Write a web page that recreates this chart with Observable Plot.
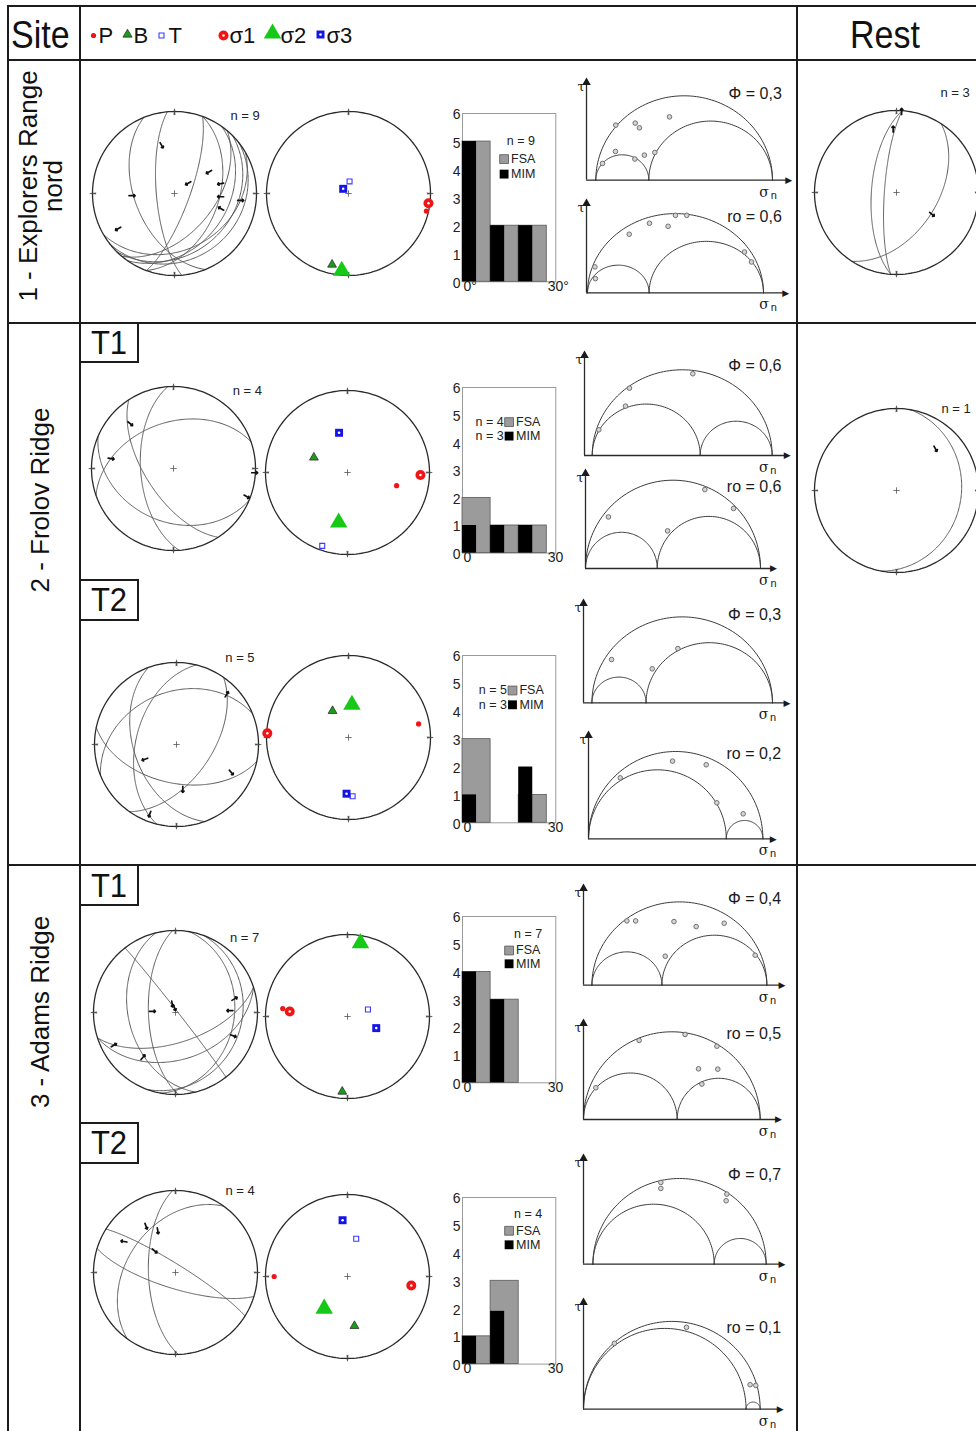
<!DOCTYPE html>
<html>
<head>
<meta charset="utf-8">
<script src="https://cdn.jsdelivr.net/npm/d3@7"></script>
<script src="https://cdn.jsdelivr.net/npm/@observablehq/plot@0.6"></script>
<style>
  html, body { margin: 0; padding: 0; background: #fff; }
  #page { position: relative; width: 976px; height: 1431px; overflow: hidden; background: #fff;
          font-family: "Liberation Sans", Arial, Helvetica, sans-serif; color: #111; }
  .ln { position: absolute; background: #1c1c1c; }
  .txt { position: absolute; white-space: nowrap; line-height: 1; }
</style>
</head>
<body>
<div id="page"></div>
<script>
// ======================= DATA =======================
const headerSite = "Site";
const headerRest = "Rest";
const legendLabels = ["P", "B", "T", "σ1", "σ2", "σ3"];
const siteNames = [["1 - Explorers Range", "nord"], ["2 - Frolov Ridge"], ["3 - Adams Ridge"]];
const phaseNames = ["T1", "T2"];

// Fault planes: [dip direction (deg), dip (deg)]
const planesS1   = [[265,72],[248,50],[110,75],[110,45],[125,35],[135,28],[142,20],[130,50],[150,32]];
const planesS2T1 = [[237,62],[266,57],[341,43],[203,35]];
const planesS2T2 = [[250,47],[284,49],[192,51],[338,36],[125,55]];
const planesS3T1 = [[52,88],[162,60],[162,42],[268,63],[256,42],[100,29],[110,20]];
const planesS3T2 = [[32,82],[197,74],[268,63],[306,41]];
const planesRest1 = [[274,65],[274,78],[123,49]];
const planesRest2 = [[100,22]];

// Striae: [trend (deg), plunge (deg), slip sense azimuth (deg)]
const striaeS1   = [[345,39,150],[58,49,240],[53,73,240],[78,42,260],[267,47,90],[94,43,270],[96,20,90],[108,40,300],[238,20,240]];
const striaeS2T1 = [[316,25,130],[279,24,100],[93,1,90],[111,5,120]];
const striaeS2T2 = [[45,14.5,30],[245,55,250],[172,44,180],[117,26,140],[201,10,200]];
const striaeS3T1 = [[339,81,170],[348,85,160],[273,67,90],[77,27,60],[88,34,270],[112,25,110],[242,16,60],[216,33,40]];
const striaeS3T2 = [[327.5,33.5,160],[337,44,170],[301,27.5,280],[316,60,130]];
const striaeRest1 = [[3.6,1,0],[357,23.6,0],[121.5,48,130]];
const striaeRest2 = [[43,31,150]];

// Kinematic axes (P, B, T) and stress axes (σ1, σ2, σ3): [axis, trend, plunge]
const axesS1   = [["P",102.7,3],["B",193,12],["T",5,78],["σ1",97,2],["σ2",185,6],["σ3",311.5,83]];
const axesS2T1 = [["P",105,38],["B",294,53],["T",199,6],["σ1",92,12],["σ2",190,38],["σ3",348,49]];
const axesS2T2 = [["P",79,14],["B",329,59],["T",176,29],["σ1",273,1],["σ2",6,57],["σ3",182,32]];
const axesS3T1 = [["P",277,21.5],["B",184,9],["T",71,68.5],["σ1",275,30],["σ2",10,10],["σ3",112,59]];
const axesS3T2 = [["P",270,11.5],["B",172,39],["T",13,51],["σ1",98,22.5],["σ2",216,50],["σ3",355,31.7]];

const netCounts = [9, 4, 5, 7, 4];
const restCounts = [3, 1];

// Misfit-angle histograms (0-30 deg, 10 deg bins)
const binStarts = [0, 10, 20];
const binWidth = 10;
const fsaCounts = [[5,2,2],[2,1,1],[3,0,1],[4,3,0],[1,3,0]];
const mimCounts = [[5,2,2],[1,1,1],[1,0,2],[4,3,0],[1,1.9,0]];
const fsaN = [9, 4, 5, 7, 4];
const mimN = [null, 3, 3, null, null];
const histYTicks = [0,1,2,3,4,5,6];
const histXTicks = [0, 30];

// Mohr diagrams
const mohrLabels = ["Φ = 0,3","ro = 0,6","Φ = 0,6","ro = 0,6","Φ = 0,3","ro = 0,2","Φ = 0,4","ro = 0,5","Φ = 0,7","ro = 0,1"];
const sigma2Pos  = [0.30, 0.35, 0.60, 0.41, 0.30, 0.79, 0.40, 0.53, 0.70, 0.92];
const mohrPoints = [
  [[0.038,0.099],[0.113,0.326],[0.111,0.170],[0.223,0.338],[0.247,0.310],[0.221,0.125],[0.275,0.148],[0.334,0.164],[0.417,0.375]],
  [[0.042,0.164],[0.045,0.090],[0.237,0.370],[0.352,0.439],[0.458,0.420],[0.500,0.489],[0.564,0.489],[0.892,0.258],[0.932,0.195]],
  [[0.037,0.150],[0.185,0.288],[0.207,0.393],[0.559,0.477]],
  [[0.131,0.292],[0.469,0.213],[0.682,0.447],[0.846,0.340]],
  [[0.109,0.252],[0.334,0.198],[0.476,0.316]],
  [[0.182,0.349],[0.482,0.445],[0.675,0.424],[0.736,0.206],[0.887,0.143]],
  [[0.200,0.386],[0.250,0.386],[0.469,0.382],[0.596,0.352],[0.756,0.372],[0.419,0.174],[0.933,0.180]],
  [[0.070,0.181],[0.315,0.451],[0.575,0.485],[0.755,0.418],[0.651,0.289],[0.760,0.287],[0.670,0.202]],
  [[0.392,0.477],[0.392,0.442],[0.773,0.409],[0.769,0.370]],
  [[0.175,0.375],[0.583,0.466],[0.943,0.139],[0.975,0.135]]
];

// ======================= LAYOUT / STYLE =======================
const FONT = '"Liberation Sans", Arial, Helvetica, sans-serif';
const SERIF = '"DejaVu Serif", "Liberation Serif", serif';
const RED = "#f01414", GREEN = "#16c916", DKGREEN = "#1c9a1c", BLUE = "#1414e6", LBLUE = "#3a3aff";
const page = document.getElementById("page");
const baseStyle = {background: "none", overflow: "visible", fontFamily: FONT, color: "#1a1a1a"};

function place(node, left, top) {
  node.style.position = "absolute";
  node.style.left = left + "px";
  node.style.top = top + "px";
  page.appendChild(node);
  return node;
}
function rule(x, y, w, h) {
  const d = document.createElement("div");
  d.className = "ln";
  d.style.width = w + "px"; d.style.height = h + "px";
  place(d, x, y);
}
function label(str, x, y, size, anchor = "start", scaleY = 1) {
  const d = document.createElement("div");
  d.className = "txt";
  d.textContent = str;
  d.style.fontSize = size + "px";
  const tx = anchor === "middle" ? "-50%" : anchor === "end" ? "-100%" : "0";
  d.style.transform = `translate(${tx}, -50%) scaleY(${scaleY})`;
  place(d, x, y);
  return d;
}
function rotLabel(lines, cx, cy) {
  const d = document.createElement("div");
  d.className = "txt";
  d.style.fontSize = "26px"; d.style.lineHeight = "25px"; d.style.textAlign = "center";
  lines.forEach(l => { const e = document.createElement("div"); e.textContent = l; d.appendChild(e); });
  d.style.transform = "translate(-50%,-50%) rotate(-90deg)";
  place(d, cx, cy);
}

// ---- table grid ----
rule(7, 5, 975, 2); rule(7, 59, 975, 2); rule(7, 322, 975, 2); rule(7, 864, 975, 2);
rule(7, 5, 2, 1430); rule(79, 5, 2, 1430); rule(796, 5, 2, 1430);
// phase boxes
rule(79, 361, 60, 2); rule(137, 322, 2, 41);
rule(79, 579, 60, 2); rule(79, 619, 60, 2); rule(137, 579, 2, 42);
rule(79, 904, 60, 2); rule(137, 864, 2, 42);
rule(79, 1122, 60, 2); rule(79, 1162, 60, 2); rule(137, 1122, 2, 42);

label(headerSite, 11, 35, 34, "start", 1.12);
label(headerRest, 885, 35, 34, "middle", 1.12);
rotLabel(siteNames[0], 41, 186);
rotLabel(siteNames[1], 40, 500);
rotLabel(siteNames[2], 40, 1012);
label(phaseNames[0], 109, 343, 31, "middle", 1.08);
label(phaseNames[1], 109, 600, 31, "middle", 1.08);
label(phaseNames[0], 109, 886, 31, "middle", 1.08);
label(phaseNames[1], 109, 1143, 31, "middle", 1.08);

// ---- header legend (Plot) ----
{
  const f = {frameAnchor: "left"};
  const txt = (s, dx) => Plot.text([s], {...f, dx, dy: 1, fontSize: 22, textAnchor: "start", lineAnchor: "middle", fill: "#111"});
  const legend = Plot.plot({
    width: 300, height: 50, margin: 0, style: baseStyle,
    marks: [
      Plot.dot([0], {...f, dx: 11, dy: 1, r: 2.6, fill: RED}),
      Plot.dot([0], {...f, dx: 45, dy: 0, symbol: "triangle", r: 3.4, fill: DKGREEN, stroke: "#222", strokeWidth: 0.7}),
      Plot.dot([0], {...f, dx: 79, dy: 1, symbol: "square", r: 2.8, fill: "white", stroke: LBLUE, strokeWidth: 1.1}),
      Plot.dot([0], {...f, dx: 141, dy: 1, r: 5, fill: RED}),
      Plot.dot([0], {...f, dx: 141, dy: 1, r: 1.3, fill: "white"}),
      Plot.dot([0], {...f, dx: 190, dy: -1, symbol: "triangle", r: 6.5, fill: GREEN}),
      Plot.dot([0], {...f, dx: 238, dy: 0, symbol: "square", r: 4.5, fill: BLUE}),
      Plot.dot([0], {...f, dx: 238, dy: 0, r: 1.3, fill: "white"}),
      txt(legendLabels[0], 16), txt(legendLabels[1], 51), txt(legendLabels[2], 86),
      txt(legendLabels[3], 147), txt(legendLabels[4], 198), txt(legendLabels[5], 244)
    ]
  });
  place(legend, 82, 9);
}

// ---- stereonets ----
const R = 82;
const lonOf = t => 180 - t;            // trend -> longitude for a north-polar lower-hemisphere view
function stereo({cx, cy, planes = [], striae = [], axes = [], n = null, nx = 0, ny = 0}) {
  const W = 190, H = 210, tx = 95, ty = 118;
  const projection = d3.geoAzimuthalEqualArea().rotate([0, -90]).clipAngle(90)
    .scale(R / Math.SQRT2).translate([tx, ty]).precision(0.2);
  const circles = planes.map(([dd, dip]) => ({
    type: "LineString",
    coordinates: d3.geoCircle().center([-dd, 90 - dip]).radius(90).precision(1)().coordinates[0]
  }));
  const ax = type => axes.filter(a => a[0] === type);
  const px = d => lonOf(d[1]), py = d => d[2];
  const marks = [
    Plot.geo(circles, {stroke: "#5a5a5a", strokeWidth: 1, fill: "none"}),
    Plot.sphere({stroke: "#2a2a2a", strokeWidth: 1.3}),
    Plot.vector([0, 90, 180, 270], {x: d => lonOf(d), y: 0.4, rotate: d => d, length: 6, anchor: "middle", shape: "spike", r: 0.6, stroke: "#444", fill: "#444", strokeWidth: 0.6}),
    Plot.dot([0], {x: 0, y: 90, symbol: "plus", r: 2.2, stroke: "#555", strokeWidth: 0.8}),
    Plot.vector(striae, {x: d => lonOf(d[0]), y: d => d[1], rotate: d => d[2], length: 6, anchor: "middle", stroke: "#111", strokeWidth: 1.7}),
    Plot.dot(ax("P"), {x: px, y: py, r: 2.6, fill: RED}),
    Plot.dot(ax("B"), {x: px, y: py, symbol: "triangle", r: 3.3, fill: DKGREEN, stroke: "#222", strokeWidth: 0.7}),
    Plot.dot(ax("T"), {x: px, y: py, symbol: "square", r: 2.8, fill: "white", stroke: LBLUE, strokeWidth: 1.1}),
    Plot.dot(ax("σ1"), {x: px, y: py, r: 5, fill: RED}),
    Plot.dot(ax("σ1"), {x: px, y: py, r: 1.3, fill: "white"}),
    Plot.dot(ax("σ2"), {x: px, y: py, symbol: "triangle", r: 6.5, fill: GREEN}),
    Plot.dot(ax("σ3"), {x: px, y: py, symbol: "square", r: 4.5, fill: BLUE}),
    Plot.dot(ax("σ3"), {x: px, y: py, r: 1.3, fill: "white"})
  ];
  if (n !== null) marks.push(Plot.text([`n = ${n}`], {frameAnchor: "top-left", dx: nx - (cx - tx), dy: ny - (cy - ty), fontSize: 13, textAnchor: "start", lineAnchor: "middle", fill: "#222"}));
  const svg = Plot.plot({width: W, height: H, margin: 0, projection, style: baseStyle, marks});
  place(svg, cx - tx, cy - ty);
}

const leftNets = [
  {cx: 174, cy: 193, planes: planesS1, striae: striaeS1, nx: 230, ny: 115},
  {cx: 172.5, cy: 468, planes: planesS2T1, striae: striaeS2T1, nx: 231.7, ny: 390},
  {cx: 175.5, cy: 744, planes: planesS2T2, striae: striaeS2T2, nx: 224.3, ny: 657},
  {cx: 174.5, cy: 1012, planes: planesS3T1, striae: striaeS3T1, nx: 229, ny: 937},
  {cx: 175, cy: 1272, planes: planesS3T2, striae: striaeS3T2, nx: 225, ny: 1190}
];
const rightNets = [
  {cx: 348, cy: 193, axes: axesS1},
  {cx: 347, cy: 471.5, axes: axesS2T1},
  {cx: 348, cy: 736.5, axes: axesS2T2},
  {cx: 347, cy: 1016, axes: axesS3T1},
  {cx: 347, cy: 1276, axes: axesS3T2}
];
leftNets.forEach((c, i) => stereo({...c, n: netCounts[i]}));
rightNets.forEach(c => stereo(c));
stereo({cx: 896, cy: 192, planes: planesRest1, striae: striaeRest1, n: restCounts[0], nx: 940, ny: 92});
stereo({cx: 896, cy: 490, planes: planesRest2, striae: striaeRest2, n: restCounts[1], nx: 941, ny: 408});

// ---- histograms ----
const histLayout = [
  {left: 461.7, right: 555, top: 112.7, bottom: 281,    leg: "A", nX: 58.3, nY: 28, sqX: 41.6, sqY: [45.6, 60.6], deg: true},
  {left: 461.7, right: 555, top: 386.7, bottom: 552.3,  leg: "B", sqX: 46.6, sqY: [34.6, 48.6]},
  {left: 461.7, right: 555, top: 655,   bottom: 822.3,  leg: "B", sqX: 50,   sqY: [35, 49.3]},
  {left: 461.7, right: 555, top: 916,   bottom: 1082.3, leg: "A", nX: 65.6, nY: 18, sqX: 46.6, sqY: [34, 47.3]},
  {left: 461.7, right: 555, top: 1196.7, bottom: 1363.3, leg: "A", nX: 65.6, nY: 16.5, sqX: 46.6, sqY: [33.3, 47.3]}
];
function histogram(k) {
  const L = histLayout[k];
  const mL = 24, mT = 8, mR = 6, mB = 20;
  const W = mL + (L.right - L.left) + mR, H = mT + (L.bottom - L.top) + mB;
  const bins = binStarts.map((s, i) => ({x1: s, x2: s + binWidth, xm: s + binWidth / 2, fsa: fsaCounts[k][i], mim: mimCounts[k][i]}));
  const fa = {frameAnchor: "top-left"};
  const sq = {symbol: "square", r: 5};
  const legend = [
    Plot.dot([0], {...fa, ...sq, dx: L.sqX, dy: L.sqY[0], fill: "#9b9b9b", stroke: "#555", strokeWidth: 0.8}),
    Plot.dot([0], {...fa, ...sq, dx: L.sqX, dy: L.sqY[1], fill: "#000"}),
    Plot.text(["FSA"], {...fa, dx: L.sqX + 7, dy: L.sqY[0], fontSize: 12.5, textAnchor: "start", lineAnchor: "middle", fill: "#222"}),
    Plot.text(["MIM"], {...fa, dx: L.sqX + 7, dy: L.sqY[1], fontSize: 12.5, textAnchor: "start", lineAnchor: "middle", fill: "#222"})
  ];
  if (L.leg === "A") {
    legend.push(Plot.text([`n = ${fsaN[k]}`], {...fa, dx: L.nX, dy: L.nY, fontSize: 12.5, textAnchor: "middle", lineAnchor: "middle", fill: "#222"}));
  } else {
    legend.push(Plot.text([`n = ${fsaN[k]}`], {...fa, dx: L.sqX - 5.5, dy: L.sqY[0], fontSize: 12.5, textAnchor: "end", lineAnchor: "middle", fill: "#222"}));
    legend.push(Plot.text([`n = ${mimN[k]}`], {...fa, dx: L.sqX - 5.5, dy: L.sqY[1], fontSize: 12.5, textAnchor: "end", lineAnchor: "middle", fill: "#222"}));
  }
  const svg = Plot.plot({
    width: W, height: H, marginLeft: mL, marginTop: mT, marginRight: mR, marginBottom: mB,
    style: baseStyle,
    x: {domain: [0, 33.2]}, y: {domain: [0, 6]},
    marks: [
      Plot.frame({stroke: "#9a9a9a", strokeWidth: 1}),
      Plot.rectY(bins.filter(d => d.fsa > 0), {x1: "x1", x2: "x2", y: "fsa", fill: "#9b9b9b", stroke: "#5a5a5a", strokeWidth: 0.8}),
      Plot.rectY(bins.filter(d => d.mim > 0), {x1: "x1", x2: "xm", y: "mim", fill: "#000"}),
      Plot.axisY({ticks: histYTicks, tickSize: 0, tickPadding: 2, fontSize: 14, dy: 1.5, tickFormat: d => String(d), fill: "#222"}),
      Plot.axisX({ticks: histXTicks, tickSize: 0, tickPadding: -1, fontSize: 14, dx: 1, textAnchor: "start", tickFormat: d => L.deg ? `${d}°` : String(d), fill: "#222"}),
      ...legend
    ]
  });
  place(svg, L.left - mL, L.top - mT);
}
for (let k = 0; k < 5; k++) histogram(k);

// ---- Mohr diagrams ----
const mohrLayout = [
  {axisX: 585.7, baseline: 179.3,  s3X: 595,   s1X: 771.7, H: 84.3, topY: 81.7,   rightX: 788,   titleY: 93.3},
  {axisX: 585.7, baseline: 292.7,  s3X: 586.7, s1X: 762.7, H: 79.3, topY: 203.3,  rightX: 785,   titleY: 216.7},
  {axisX: 584,   baseline: 455,    s3X: 591.7, s1X: 771.7, H: 85.7, topY: 355,    rightX: 786.7, titleY: 365},
  {axisX: 585,   baseline: 568.3,  s3X: 585,   s1X: 760,   H: 88.3, topY: 473.3,  rightX: 773,   titleY: 486.7},
  {axisX: 583.3, baseline: 702.7,  s3X: 591.7, s1X: 772.3, H: 86,   topY: 603.3,  rightX: 786.7, titleY: 615},
  {axisX: 588.3, baseline: 838.3,  s3X: 588.3, s1X: 762.7, H: 87.3, topY: 735,    rightX: 773,   titleY: 753.3},
  {axisX: 583.3, baseline: 985,    s3X: 591.7, s1X: 766.7, H: 83.3, topY: 888.3,  rightX: 781.7, titleY: 898.3},
  {axisX: 583.3, baseline: 1119.3, s3X: 583.3, s1X: 760,   H: 87.7, topY: 1023.3, rightX: 778.3, titleY: 1033.3},
  {axisX: 583.3, baseline: 1264,   s3X: 592.7, s1X: 766,   H: 85.7, topY: 1158.3, rightX: 781.7, titleY: 1175},
  {axisX: 583.3, baseline: 1408.3, s3X: 583.3, s1X: 760,   H: 87.7, topY: 1301.7, rightX: 780,   titleY: 1326.7}
];
function mohr(k) {
  const L = mohrLayout[k];
  const span = L.s1X - L.s3X;
  const x0 = (L.axisX - L.s3X) / span, x1 = (L.rightX - L.s3X) / span;
  const yTop = (L.baseline - L.topY) / (2 * L.H);
  const mL = 30, mT = 10, mR = 30, mB = 25;
  const W = mL + (L.rightX - L.axisX) + mR, Ht = mT + (L.baseline - L.topY) + mB;
  const s2 = sigma2Pos[k];
  const arcs = [[0, 1], [0, s2], [s2, 1]];
  const arcPts = arcs.flatMap(([a, b], i) => d3.range(0, 181, 2).map(t => ({
    i, x: (a + b) / 2 + (b - a) / 2 * Math.cos(t * Math.PI / 180), y: (b - a) / 2 * Math.sin(t * Math.PI / 180)
  })));
  const svg = Plot.plot({
    width: W, height: Ht, marginLeft: mL, marginTop: mT, marginRight: mR, marginBottom: mB,
    style: baseStyle,
    x: {domain: [x0, x1], axis: null}, y: {domain: [0, yTop], axis: null},
    marks: [
      Plot.line(arcPts, {x: "x", y: "y", z: "i", stroke: "#3a3a3a", strokeWidth: 1}),
      Plot.ruleX([x0], {y1: 0, y2: yTop, stroke: "#2a2a2a", strokeWidth: 1.3}),
      Plot.ruleY([0], {x1: x0, x2: x1, stroke: "#2a2a2a", strokeWidth: 1.3}),
      Plot.dot([0], {x: x0, y: yTop, symbol: "triangle", r: 3.2, fill: "#1a1a1a"}),
      Plot.text(["▶"], {x: x1, y: 0, fontSize: 9, lineAnchor: "middle", textAnchor: "middle", fill: "#1a1a1a", fontFamily: "DejaVu Sans"}),
      Plot.dot(mohrPoints[k], {x: d => d[0], y: d => d[1], r: 2.3, stroke: "#707070", fill: "#d4d4d4", strokeWidth: 1}),
      Plot.text([mohrLabels[k]], {frameAnchor: "top-right", dx: 781 - L.rightX, dy: L.titleY - L.topY, fontSize: 16, textAnchor: "end", lineAnchor: "middle", fill: "#1a1a1a"}),
      Plot.text(["τ"], {frameAnchor: "top-left", dx: -9, dy: 4, fontSize: 13, fontFamily: SERIF, fill: "#1a1a1a", lineAnchor: "middle"}),
      Plot.text(["σ"], {frameAnchor: "bottom-right", dx: 768 - L.rightX, dy: 12, fontSize: 14, fontFamily: SERIF, fill: "#1a1a1a", lineAnchor: "middle"}),
      Plot.text(["n"], {frameAnchor: "bottom-right", dx: 776 - L.rightX, dy: 15, fontSize: 11, fill: "#1a1a1a", lineAnchor: "middle"})
    ]
  });
  place(svg, L.axisX - mL, L.topY - mT);
}
for (let k = 0; k < 10; k++) mohr(k);
</script>
</body>
</html>
